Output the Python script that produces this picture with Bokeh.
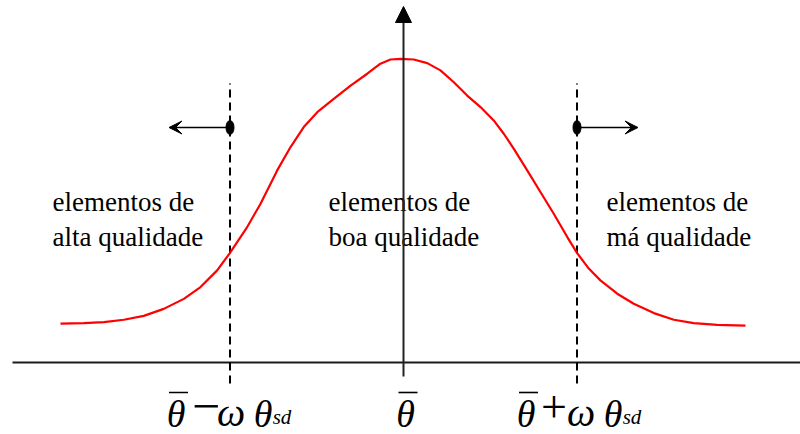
from bokeh.plotting import figure
from bokeh.models import Range1d, Arrow, VeeHead, NormalHead
from bokeh.embed import file_html
from bokeh.resources import INLINE
from bokeh.core.properties import value

# Quality curve: position in units of (omega * theta_sd) around theta-bar,
# relative height with the peak at 1.
curve_x = [-1.977, -1.843, -1.727, -1.612, -1.497, -1.382, -1.266, -1.170,
           -1.074, -1.001, -0.901, -0.824, -0.728, -0.651, -0.575, -0.497,
           -0.402, -0.305, -0.209, -0.133, -0.075, -0.017,
           0.059, 0.137, 0.213, 0.290, 0.367, 0.444, 0.520, 0.578, 0.636,
           0.713, 0.790, 0.866, 0.944, 1.001, 1.068, 1.135, 1.232, 1.327,
           1.443, 1.558, 1.673, 1.808, 1.971]
curve_y = [0.128, 0.130, 0.133, 0.141, 0.154, 0.177, 0.210, 0.249,
           0.304, 0.361, 0.447, 0.524, 0.634, 0.711, 0.777, 0.826,
           0.870, 0.914, 0.953, 0.986, 1.000, 1.002,
           1.000, 0.988, 0.964, 0.925, 0.881, 0.843, 0.799, 0.755, 0.705,
           0.634, 0.562, 0.491, 0.414, 0.361, 0.310, 0.271, 0.227, 0.194,
           0.163, 0.141, 0.130, 0.124, 0.122]

# Cut-off positions (theta-bar -/+ omega*theta_sd) and the mean
cutoffs = [-1.0, 1.0]
mean_pos = 0.0

left_lines = ["elementos de", "alta qualidade"]
mid_lines = ["elementos de", "boa qualidade"]
right_lines = ["elementos de", "má qualidade"]

W, H = 800, 434
PX_X, PX_Y = 173.5, 303.0   # pixels per data unit
X0, Y0 = 403, 362           # screen position of the origin


def dx(px):
    return px / PX_X


def dy(px):
    return px / PX_Y


p = figure(width=W, height=H,
           x_range=Range1d(-X0 / PX_X, (W - X0) / PX_X),
           y_range=Range1d(-(H - Y0) / PX_Y, Y0 / PX_Y),
           x_axis_type=None, y_axis_type=None,
           output_backend="svg", toolbar_location=None,
           min_border=0, min_border_left=0, min_border_right=0,
           min_border_top=0, min_border_bottom=0)
p.grid.visible = False
p.outline_line_color = None
p.background_fill_color = "white"
p.border_fill_color = "white"

# horizontal axis
p.segment(x0=[dx(12 - X0)], y0=[0], x1=[dx(W - X0)], y1=[0],
          line_color="#1a1a1a", line_width=2)

# vertical axis with filled arrow head
p.add_layout(Arrow(x_start=mean_pos, y_start=dy(-14), x_end=mean_pos, y_end=dy(356),
                   line_color="#222222", line_width=2,
                   end=NormalHead(size=16, fill_color="black", line_color="black")))

# dashed cut-off lines
p.segment(x0=cutoffs, y0=[dy(-21)] * 2, x1=cutoffs, y1=[dy(279)] * 2,
          line_color="black", line_width=2, line_dash="8 5")

# dots and direction arrows on the cut-offs
p.ellipse(x=cutoffs, y=[dy(235)] * 2, width=dx(8), height=dy(14),
          fill_color="black", line_color="black")
for c in cutoffs:
    p.add_layout(Arrow(x_start=c, y_start=dy(235), x_end=c + (dx(61) if c > 0 else -dx(61)),
                       y_end=dy(235), line_color="black", line_width=1.5,
                       end=VeeHead(size=13, fill_color="black", line_color="black",
                                   line_width=1)))

# quality curve
p.line(curve_x, curve_y, line_color="#ff0000", line_width=2.2)

# region labels
serif = value("'Liberation Serif', 'Times New Roman', serif")
for lines, left_px in ((left_lines, 52), (mid_lines, 328), (right_lines, 606)):
    p.text(x=[dx(left_px - X0)] * 2, y=[dy(Y0 - 201), dy(Y0 - 236)], text=lines,
           text_font=serif, text_font_size="27px", text_align="left",
           text_baseline="middle", text_color="black")

# formula labels below the axis: (text, x offset px, y offset px below axis, size, style)
minus_label = [("θ", -54, 51, "38px", "italic"), ("−", -24, 44, "50px", "normal"),
               ("ω", 1, 50, "40px", "italic"), ("θ", 33, 51, "38px", "italic"),
               ("sd", 52, 54, "21px", "italic")]
plus_label = [("θ", -51, 51, "38px", "italic"), ("+", -23, 44, "46px", "normal"),
              ("ω", 4, 50, "40px", "italic"), ("θ", 36, 51, "38px", "italic"),
              ("sd", 55, 54, "21px", "italic")]
mean_label = [("θ", 2, 51, "38px", "italic")]

for anchor, pieces in ((cutoffs[0], minus_label), (mean_pos, mean_label), (cutoffs[1], plus_label)):
    for txt, off, base, size, style in pieces:
        p.text(x=[anchor], y=[0], text=[txt], x_offset=off, y_offset=base,
               text_font=serif, text_font_size=size, text_font_style=style,
               text_align="center", text_baseline="alphabetic", text_color="black")
    # bar over the leading theta
    bx = anchor + dx(pieces[0][1])
    p.segment(x0=[bx - dx(7)], y0=[dy(-30)], x1=[bx + dx(12)], y1=[dy(-30)],
              line_color="black", line_width=1.6)

open("out.html", "w").write(file_html(p, INLINE))
